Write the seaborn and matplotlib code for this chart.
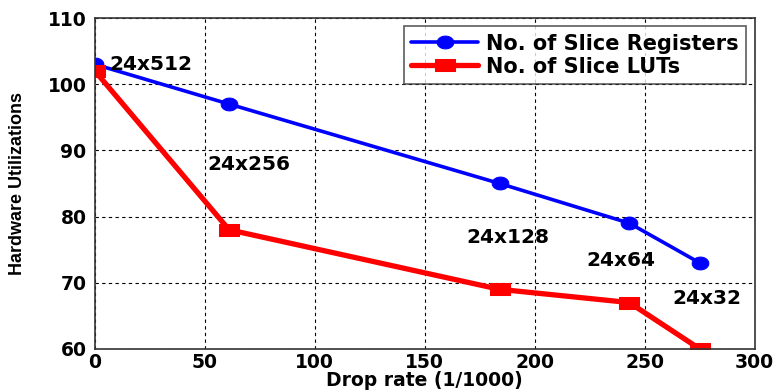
import matplotlib
matplotlib.use("Agg")
import matplotlib.pyplot as plt
import seaborn as sns
import pandas as pd
import numpy as np
from matplotlib.path import Path

# Drop rate (1/1000) for each memory configuration
drop_rate = [0, 61, 184, 243, 275]
slice_registers = [103, 97, 85, 79, 73]
slice_luts = [102, 78, 69, 67, 60]
configs = ["24x512", "24x256", "24x128", "24x64", "24x32"]
label_x = [6.8, 51, 169, 223.5, 262.6]
label_y = [103, 87.8, 76.9, 73.4, 67.6]

sns.set_theme(style="white")
plt.rcParams["font.family"] = ["DejaVu Sans"]
plt.rcParams["font.weight"] = "bold"
plt.rcParams["text.color"] = "black"
plt.rcParams["axes.labelcolor"] = "black"

df_reg = pd.DataFrame({"x": drop_rate, "y": slice_registers})
df_lut = pd.DataFrame({"x": drop_rate, "y": slice_luts})

# Slightly wide marker shapes
theta = np.linspace(0, 2 * np.pi, 40)
ellipse = Path(np.column_stack([1.3 * np.cos(theta), np.sin(theta)]), closed=True)
wide_square = Path([(-1.5, -1), (1.5, -1), (1.5, 1), (-1.5, 1), (-1.5, -1)], closed=True)

fig = plt.figure(figsize=(7.78, 3.92), dpi=100)
ax = fig.add_axes([0.122, 0.110, 0.848, 0.844])

sns.lineplot(data=df_reg, x="x", y="y", ax=ax, color="#0000ff", lw=2.6,
             marker=ellipse, markersize=12, markeredgecolor="#0000ff",
             label="No. of Slice Registers")
sns.lineplot(data=df_lut, x="x", y="y", ax=ax, color="#ff0000", lw=3.8,
             marker=wide_square, markersize=14, markeredgecolor="#ff0000",
             label="No. of Slice LUTs")

for t, lx, ly in zip(configs, label_x, label_y):
    ax.text(lx, ly, t, fontsize=14.5, fontweight="bold", va="center",
            ha="left", color="black")

ax.set_xlim(0, 300)
ax.set_ylim(60, 110)
ax.set_xticks(range(0, 301, 50))
ax.set_yticks(range(60, 111, 10))
ax.grid(True, color="black", linestyle=(0, (3, 3)), linewidth=0.8)
ax.tick_params(axis="both", labelsize=13.5, direction="in", length=4,
               colors="black")
ax.tick_params(axis="x", pad=3)
ax.tick_params(axis="y", pad=6)
for lab in ax.get_xticklabels() + ax.get_yticklabels():
    lab.set_fontweight("bold")
for s in ax.spines.values():
    s.set_color("#333333")
    s.set_linewidth(1.2)

ax.set_xlabel("Drop rate (1/1000)", fontsize=13.5, fontweight="bold", labelpad=-1)
ax.set_ylabel("Hardware Utilizations", fontsize=13, fontweight="bold",
              family=["Liberation Sans Narrow", "Liberation Sans"])
ax.yaxis.set_label_coords(-0.105, 0.5)

leg = ax.legend(loc="upper right", fontsize=15, frameon=True, fancybox=False,
                handlelength=3.2, handletextpad=0.4, borderaxespad=0.4,
                labelspacing=0.15, borderpad=0.35)
leg.get_frame().set_edgecolor("#333333")
leg.get_frame().set_linewidth(1.2)
for t in leg.get_texts():
    t.set_fontweight("bold")
    t.set_color("black")

fig.savefig("out.png", dpi=100)
